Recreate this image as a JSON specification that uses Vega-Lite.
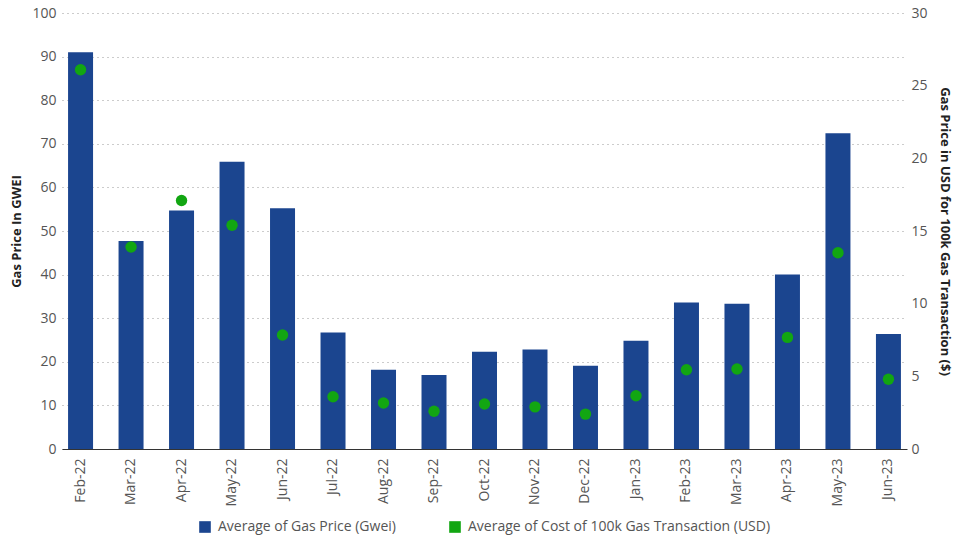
{
  "$schema": "https://vega.github.io/schema/vega-lite/v6.json",
  "width": 960,
  "height": 540,
  "autosize": {"type": "fit", "contains": "padding"},
  "padding": {"left": 10, "right": 9, "top": 6, "bottom": 6},
  "background": "white",
  "config": {
    "font": "Open Sans",
    "view": {"stroke": null},
    "axis": {"labelFont": "Open Sans", "titleFont": "Open Sans", "labelColor": "#555555", "titleColor": "#222222", "labelFontSize": 14, "titleFontSize": 13, "titleFontWeight": "bold"},
    "legend": {"layout": {"bottom": {"anchor": "middle"}}}
  },
  "data": {
    "values": [
      {"month": "Feb-22", "gwei": 91.0, "usd": 26.1},
      {"month": "Mar-22", "gwei": 47.7, "usd": 13.9},
      {"month": "Apr-22", "gwei": 54.7, "usd": 17.1},
      {"month": "May-22", "gwei": 65.9, "usd": 15.4},
      {"month": "Jun-22", "gwei": 55.2, "usd": 7.84},
      {"month": "Jul-22", "gwei": 26.7, "usd": 3.6},
      {"month": "Aug-22", "gwei": 18.2, "usd": 3.17},
      {"month": "Sep-22", "gwei": 17.0, "usd": 2.6},
      {"month": "Oct-22", "gwei": 22.3, "usd": 3.1},
      {"month": "Nov-22", "gwei": 22.8, "usd": 2.9},
      {"month": "Dec-22", "gwei": 19.1, "usd": 2.4},
      {"month": "Jan-23", "gwei": 24.8, "usd": 3.66},
      {"month": "Feb-23", "gwei": 33.6, "usd": 5.45},
      {"month": "Mar-23", "gwei": 33.3, "usd": 5.5},
      {"month": "Apr-23", "gwei": 40.0, "usd": 7.68},
      {"month": "May-23", "gwei": 72.4, "usd": 13.5},
      {"month": "Jun-23", "gwei": 26.4, "usd": 4.8}
    ]
  },
  "encoding": {
    "x": {
      "field": "month",
      "type": "ordinal",
      "sort": null,
      "scale": {"paddingInner": 0.505, "paddingOuter": 0.12},
      "axis": {"title": null, "labelAngle": -90, "ticks": false, "domainColor": "#333333", "labelPadding": 9, "labelBaseline": "middle", "labelAlign": "right"}
    }
  },
  "layer": [
    {
      "mark": {"type": "bar"},
      "encoding": {
        "y": {
          "field": "gwei",
          "type": "quantitative",
          "scale": {"domain": [0, 100], "nice": false},
          "axis": {"title": "Gas Price In GWEI", "values": [0,10,20,30,40,50,60,70,80,90,100], "domain": false, "ticks": false, "labelPadding": 6, "grid": true, "gridColor": "#999999", "gridDash": [1, 4], "gridWidth": 1, "titlePadding": 8}
        },
        "color": {
          "datum": "Average of Gas Price (Gwei)",
          "type": "nominal",
          "scale": {"domain": ["Average of Gas Price (Gwei)", "Average of Cost of 100k Gas Transaction (USD)"], "range": ["#1b458f", "#12a612"]},
          "legend": {"title": null, "orient": "bottom", "direction": "horizontal", "symbolType": "square", "symbolSize": 135, "labelFontSize": 14, "labelColor": "#555555", "labelFont": "Open Sans", "labelLimit": 0, "labelOffset": 6, "columnPadding": 52, "symbolOpacity": 1, "offset": 14}
        }
      }
    },
    {
      "mark": {"type": "point", "filled": true, "size": 130, "opacity": 1},
      "encoding": {
        "y": {
          "field": "usd",
          "type": "quantitative",
          "scale": {"domain": [0, 30], "nice": false},
          "axis": {"title": "Gas Price in USD for 100k Gas Transaction ($)", "orient": "right", "values": [0,5,10,15,20,25,30], "domain": false, "ticks": false, "grid": false, "labelPadding": 4, "titlePadding": 10}
        },
        "color": {"datum": "Average of Cost of 100k Gas Transaction (USD)", "type": "nominal"}
      }
    }
  ],
  "resolve": {"scale": {"y": "independent"}}
}
